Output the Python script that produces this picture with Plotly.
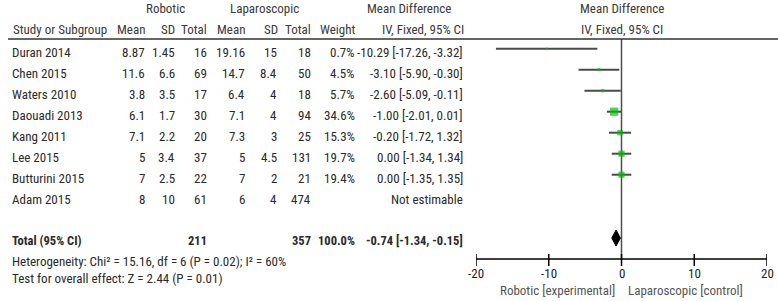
import plotly.graph_objects as go

# ---------------- data ----------------
studies = ["Duran 2014", "Chen 2015", "Waters 2010", "Daouadi 2013", "Kang 2011",
           "Lee 2015", "Butturini 2015", "Adam 2015"]
rob_mean = [8.87, 11.6, 3.8, 6.1, 7.1, 5, 7, 8]
rob_sd = [1.45, 6.6, 3.5, 1.7, 2.2, 3.4, 2.5, 10]
rob_total = [16, 69, 17, 30, 20, 37, 22, 61]
lap_mean = [19.16, 14.7, 6.4, 7.1, 7.3, 5, 7, 6]
lap_sd = [15, 8.4, 4, 4, 3, 4.5, 2, 4]
lap_total = [18, 50, 18, 94, 25, 131, 21, 474]
weight = [0.7, 4.5, 5.7, 34.6, 15.3, 19.7, 19.4, None]
md = [-10.29, -3.10, -2.60, -1.00, -0.20, 0.00, 0.00, None]
ci_lo = [-17.26, -5.90, -5.09, -2.01, -1.72, -1.34, -1.35, None]
ci_hi = [-3.32, -0.30, -0.11, 0.01, 1.32, 1.34, 1.35, None]

total_rob = 211
total_lap = 357
total_weight = 100.0
pooled_md = -0.74
pooled_lo = -1.34
pooled_hi = -0.15

heterogeneity_text = "Heterogeneity: Chi² = 15.16, df = 6 (P = 0.02); I² = 60%"
overall_text = "Test for overall effect: Z = 2.44 (P = 0.01)"
tick_vals = [-20, -10, 0, 10, 20]
tick_text = ["-20", "-10", "0", "10", "20"]
left_label = "Robotic [experimental]"
right_label = "Laparoscopic [control]"

# ---------------- layout constants ----------------
W, H = 778, 301
FONT = "Roboto Condensed, Arial Narrow, sans-serif"
FS = 13
TXT = "#2a2a2a"
ROW0, ROWSTEP, TXT_OFF = 48.7, 21.0, 4.0
TOTAL_Y = 238.0
AXIS_Y = 259.0
HEADER_LINE_Y = 39.0
X_LO_PX, X_HI_PX = 476.0, 767.0

row_y = [ROW0 + ROWSTEP * i for i in range(len(studies))]

def fmt(v):
    return f"{v:g}"

fig = go.Figure()

# zero line
fig.add_trace(go.Scatter(x=[0, 0], y=[HEADER_LINE_Y, AXIS_Y], mode="lines",
                         line=dict(color="#4d4d4d", width=1.5), xaxis="x", yaxis="y",
                         hoverinfo="skip", showlegend=False))

# header rule (pixel x-axis)
fig.add_trace(go.Scatter(x=[8, W], y=[HEADER_LINE_Y, HEADER_LINE_Y], mode="lines",
                         line=dict(color="#333333", width=1.5), xaxis="x2", yaxis="y",
                         hoverinfo="skip", showlegend=False))

# CI lines
cx, cy = [], []
for lo, hi, y in zip(ci_lo, ci_hi, row_y):
    if lo is None:
        continue
    cx += [lo, hi, None]
    cy += [y, y, None]
fig.add_trace(go.Scatter(x=cx, y=cy, mode="lines", line=dict(color="#4a4a4a", width=2),
                         xaxis="x", yaxis="y", hoverinfo="skip", showlegend=False))

# squares
mx, my, ms = [], [], []
for m, w, y in zip(md, weight, row_y):
    if m is None:
        continue
    mx.append(m)
    my.append(y)
    ms.append(max(2.0, 1.4 * w ** 0.5))
fig.add_trace(go.Scatter(x=mx, y=my, mode="markers",
                         marker=dict(symbol="square", size=ms, color="#00c000", line=dict(width=0)),
                         xaxis="x", yaxis="y", hoverinfo="skip", showlegend=False))

# diamond
DH = 8
fig.add_trace(go.Scatter(x=[pooled_lo, pooled_md, pooled_hi, pooled_md, pooled_lo],
                         y=[TOTAL_Y, TOTAL_Y - DH, TOTAL_Y, TOTAL_Y + DH, TOTAL_Y],
                         mode="lines", fill="toself", fillcolor="black",
                         line=dict(color="black", width=1), xaxis="x", yaxis="y",
                         hoverinfo="skip", showlegend=False))

# axis line and ticks
fig.add_trace(go.Scatter(x=[tick_vals[0], tick_vals[-1]], y=[AXIS_Y, AXIS_Y], mode="lines",
                         line=dict(color="black", width=1.5), xaxis="x", yaxis="y",
                         hoverinfo="skip", showlegend=False))
tx, ty = [], []
for t in tick_vals:
    tx += [t, t, None]
    ty += [AXIS_Y - 5, AXIS_Y + 7, None]
fig.add_trace(go.Scatter(x=tx, y=ty, mode="lines", line=dict(color="black", width=1.5),
                         xaxis="x", yaxis="y", hoverinfo="skip", showlegend=False))

ann = []

def add(text, x, y, anchor="right", ref="x2", color=TXT, size=FS):
    ann.append(dict(text=text, x=x, y=y, xref=ref, yref="y", xanchor=anchor, yanchor="middle",
                    showarrow=False, font=dict(family=FONT, size=size, color=color)))

# headers
H1, H2 = 8.5, 29.0
HC = "#3a3a3a"
add("Robotic", 165, H1, "center", color=HC)
add("Laparoscopic", 264, H1, "center", color=HC)
add("Mean Difference", 409, H1, "center", color=HC)
add("Study or Subgroup", 11, H2, "left", color=HC)
add("Mean", 147, H2, color=HC)
add("SD", 177, H2, color=HC)
add("Total", 209, H2, color=HC)
add("Mean", 247, H2, color=HC)
add("SD", 280, H2, color=HC)
add("Total", 313, H2, color=HC)
add("Weight", 357, H2, color=HC)
add("IV, Fixed, 95% CI", 466, H2, color=HC)
add("Mean Difference", 0, H1, "center", ref="x", color=HC)
add("IV, Fixed, 95% CI", 0, H2, "center", ref="x", color=HC)

COLS = [147, 177, 209, 247, 279, 313, 357, 465]
for i, s in enumerate(studies):
    y = row_y[i] + TXT_OFF
    add(s, 10, y, "left")
    add(fmt(rob_mean[i]), COLS[0], y)
    add(fmt(rob_sd[i]), COLS[1], y)
    add(fmt(rob_total[i]), COLS[2], y)
    add(fmt(lap_mean[i]), COLS[3], y)
    add(fmt(lap_sd[i]), COLS[4], y)
    add(fmt(lap_total[i]), COLS[5], y)
    if weight[i] is not None:
        add(f"{weight[i]:.1f}%", COLS[6], y)
        add(f"{md[i]:.2f} [{ci_lo[i]:.2f}, {ci_hi[i]:.2f}]", COLS[7], y)
    else:
        add("Not estimable", COLS[7], y)

ty_ = TOTAL_Y + 2
BS = 12.5
add("<b>Total (95% CI)</b>", 10, ty_, "left", size=BS)
add(f"<b>{total_rob}</b>", COLS[2], ty_, size=BS)
add(f"<b>{total_lap}</b>", COLS[5], ty_, size=BS)
add(f"<b>{total_weight:.1f}%</b>", COLS[6], ty_, size=BS)
add(f"<b>{pooled_md:.2f} [{pooled_lo:.2f}, {pooled_hi:.2f}]</b>", COLS[7], ty_, size=BS)
add(heterogeneity_text, 10, 261, "left")
add(overall_text, 10, 278, "left")

for v, t in zip(tick_vals, tick_text):
    add(t, v, 273, "center", ref="x", color="#222222")
add(left_label, -0.6, 290.5, "right", ref="x", color="#555555")
add(right_label, 0.6, 290.5, "left", ref="x", color="#555555")

dom = [X_LO_PX / W, X_HI_PX / W]
fig.update_layout(
    width=W, height=H, margin=dict(l=0, r=0, t=0, b=0),
    paper_bgcolor="white", plot_bgcolor="rgba(0,0,0,0)",
    xaxis=dict(domain=dom, range=[tick_vals[0], tick_vals[-1]], visible=False, anchor="y"),
    xaxis2=dict(domain=[0, 1], range=[0, W], visible=False, anchor="y"),
    yaxis=dict(domain=[0, 1], range=[H, 0], visible=False),
    annotations=ann, showlegend=False, hovermode=False,
)
for tr in fig.data:
    tr.cliponaxis = False

fig.write_html("out.html", config={"displayModeBar": False},
               post_script="document.body.style.margin='0';document.body.style.overflow='hidden';")
